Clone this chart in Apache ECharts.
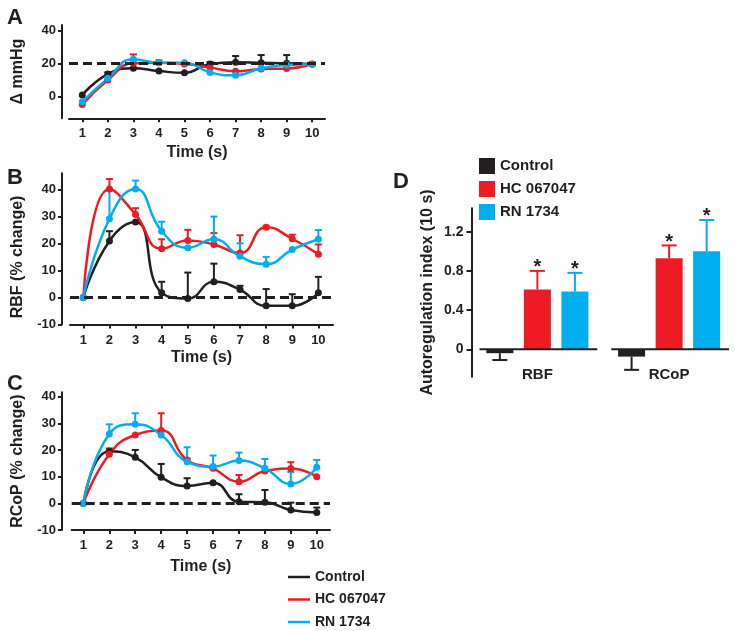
<!DOCTYPE html>
<html><head><meta charset="utf-8">
<script src="https://cdn.jsdelivr.net/npm/echarts@6/dist/echarts.min.js"></script>
<style>html,body{margin:0;padding:0;background:#fff}#c{width:735px;height:631px}</style>
</head><body><div id="c"></div>
<script>
// ---------- data ----------
const times = [1, 2, 3, 4, 5, 6, 7, 8, 9, 10];
const groupNames = ['Control', 'HC 067047', 'RN 1734'];

// Panel A: Δ mmHg (mean, SEM)
const aControl    = [0.8, 13.5, 17, 15.3, 14.3, 19.6, 20.6, 20.3, 20, 19.5];
const aControlErr = [0, 1, 0, 0, 0, 1.2, 3.8, 4.7, 5, 0.5];
const aHC         = [-5, 9.9, 20, 20.3, 19.6, 17.5, 15.2, 16.5, 16.8, 19.6];
const aHCErr      = [0, 0, 5.4, 1.5, 0, 0, 0, 0, 0, 1.2];
const aRN         = [-3.3, 10.9, 22.4, 20.4, 20.4, 14.5, 12.7, 17, 19, 19.5];
const aRNErr      = [0, 0, 0, 0, 0, 0, 0, 0, 0, 0];

// Panel B: RBF (% change)
const bControl    = [0, 20.9, 27.9, 1.7, -0.4, 5.8, 2.9, -3.1, -3.1, 1.7];
const bControlErr = [0, 3.6, 0, 4.1, 9.6, 6.7, 1.4, 6.2, 4.3, 5.9];
const bHC         = [0, 40.1, 30.7, 18, 21.1, 19.6, 16.4, 26, 21.7, 16];
const bHCErr      = [0, 3.7, 2.3, 3.5, 3.9, 4.2, 6.6, 0.5, 1.5, 3.6];
const bRN         = [0, 29.1, 40.1, 24.5, 18.4, 21.5, 15.2, 12.3, 17.7, 21.5];
const bRNErr      = [0, 10.4, 3.1, 3.5, 0, 8.4, 4.8, 2.7, 0, 3.4];

// Panel C: RCoP (% change)
const cControl    = [0, 19.5, 17.25, 9.75, 6.5, 7.75, 0.6, 0.4, -2.5, -3.4];
const cControlErr = [0, 0, 2.75, 5, 2.9, 0, 2.8, 4.6, 2.75, 1.8];
const cHC         = [0, 18.4, 25.6, 27.25, 16.25, 13.1, 8.1, 12.1, 13, 10];
const cHCErr      = [0, 2.2, 0, 6.5, 0.5, 0, 2.5, 0, 2.4, 0];
const cRN         = [0, 26, 29.6, 25.6, 15.6, 13.75, 16, 13.1, 7.25, 13.5];
const cRNErr      = [0, 3.6, 4.15, 0, 5.4, 4.15, 3, 3.5, 4.5, 2.75];

const refLevels = [20, 0, 0];
const lineYTicks = [[0, 20, 40], [-10, 0, 10, 20, 30, 40], [-10, 0, 10, 20, 30, 40]];

// Panel D: Autoregulation index (10 s)
const dCategories = ['RBF', 'RCoP'];
const dControl    = [-0.04, -0.075];
const dControlErr = [0.07, 0.135];
const dHC         = [0.61, 0.93];
const dHCErr      = [0.19, 0.13];
const dRN         = [0.59, 1.0];
const dRNErr      = [0.19, 0.32];
const dStars      = [[0, 0], [1, 1], [1, 1]];
const dYTicks     = [0, 0.4, 0.8, 1.2];

// ---------- style ----------
const ink = '#231F20';
const colors = [ink, '#ED1C24', '#00AEEF'];
const font = '"Liberation Sans", Arial, Helvetica, sans-serif';

const panels = [
  { grid: { left: 69, right: 410, top: 25, bottom: 512.7 }, x: [0.48, 10.5], y: [-13.3, 43.2], yoff: 7,
    name: 'Δ mmHg', namePad: 0, data: [[aControl, aControlErr], [aHC, aHCErr], [aRN, aRNErr]] },
  { grid: { left: 70, right: 402, top: 173.3, bottom: 306.5 }, x: [0.49, 10.56], y: [-10, 45.9], yoff: 8,
    name: 'RBF (% change)', namePad: 16, data: [[bControl, bControlErr], [bHC, bHCErr], [bRN, bRNErr]] },
  { grid: { left: 71.7, right: 405, top: 392.3, bottom: 101 }, x: [0.55, 10.51], y: [-10, 41.6], yoff: 9.7,
    name: 'RCoP (% change)', namePad: 0, data: [[cControl, cControlErr], [cHC, cHCErr], [cRN, cRNErr]] }
];
const nameGaps = [26, 25, 29];

const grids = [], xAxes = [], yAxes = [], series = [];

panels.forEach((p, pi) => {
  grids.push(p.grid);
  xAxes.push({
    type: 'value', gridIndex: pi, min: p.x[0], max: p.x[1],
    axisLine: { onZero: false, lineStyle: { color: ink, width: 2 } },
    axisTick: { customValues: times, length: 4, lineStyle: { color: ink, width: 2 } },
    axisLabel: { customValues: times, margin: 9, color: ink, fontWeight: 'bold', fontSize: 13, fontFamily: font },
    splitLine: { show: false },
    name: 'Time (s)', nameLocation: 'middle', nameGap: nameGaps[pi],
    nameTextStyle: { color: ink, fontWeight: 'bold', fontSize: 16, fontFamily: font }
  });
  yAxes.push({
    type: 'value', gridIndex: pi, min: p.y[0], max: p.y[1], offset: p.yoff,
    axisLine: { show: true, onZero: false, lineStyle: { color: ink, width: 2 } },
    axisTick: { show: true, customValues: lineYTicks[pi], length: 4, lineStyle: { color: ink, width: 2 } },
    axisLabel: { customValues: lineYTicks[pi], margin: 6, color: ink, fontWeight: 'bold', fontSize: 13, fontFamily: font },
    splitLine: { show: false },
    name: p.name, nameLocation: 'middle', nameGap: 36,
    nameTextStyle: { color: ink, fontWeight: 'bold', fontSize: 16, fontFamily: font, padding: [0, p.namePad, 0, 0] }
  });
  p.data.forEach((d, gi) => {
    const col = colors[gi];
    series.push({
      type: 'custom', xAxisIndex: pi, yAxisIndex: pi, silent: true, z: 3,
      data: times.map((t, i) => [t, d[0][i], d[1][i]]),
      renderItem: (params, api) => {
        const e = api.value(2);
        if (!e) return null;
        const p0 = api.coord([api.value(0), api.value(1)]);
        const p1 = api.coord([api.value(0), api.value(1) + e]);
        return { type: 'group', children: [
          { type: 'line', shape: { x1: p0[0], y1: p0[1], x2: p1[0], y2: p1[1] }, style: { stroke: col, lineWidth: 2 } },
          { type: 'line', shape: { x1: p1[0] - 3.5, y1: p1[1], x2: p1[0] + 3.5, y2: p1[1] }, style: { stroke: col, lineWidth: 2 } }
        ] };
      }
    });
    const s = {
      type: 'line', name: groupNames[gi], xAxisIndex: pi, yAxisIndex: pi, z: 4,
      data: times.map((t, i) => [t, d[0][i]]),
      smooth: true, symbol: 'circle', symbolSize: 7, showSymbol: true,
      lineStyle: { color: col, width: 2.5 }, itemStyle: { color: col },
      emphasis: { disabled: true }
    };
    if (gi === 0) {
      s.markLine = {
        silent: true, symbol: 'none', label: { show: false },
        lineStyle: { color: ink, width: 3, type: [9, 5] },
        data: [{ yAxis: refLevels[pi] }]
      };
    }
    series.push(s);
  });
});

// Panel D
grids.push({ left: 471.5, width: 273, top: 208.3, bottom: 254.3 });
xAxes.push({
  type: 'category', gridIndex: 3, data: dCategories,
  axisLine: { show: false }, axisTick: { show: false },
  axisLabel: { margin: -9, color: ink, fontWeight: 'bold', fontSize: 15, fontFamily: font }
});
yAxes.push({
  type: 'value', gridIndex: 3, min: -0.28, max: 1.439,
  axisLine: { show: true, onZero: false, lineStyle: { color: ink, width: 2 } },
  axisTick: { show: true, customValues: dYTicks, length: 5, lineStyle: { color: ink, width: 2 } },
  axisLabel: { customValues: dYTicks, margin: 8, color: ink, fontWeight: 'bold', fontSize: 14, fontFamily: font },
  splitLine: { show: false },
  name: 'Autoregulation index (10 s)', nameLocation: 'middle', nameGap: 36,
  nameTextStyle: { color: ink, fontWeight: 'bold', fontSize: 16, fontFamily: font }
});

const BAR_W = 27, BAR_GAP = 0.39;
const dData = [[dControl, dControlErr], [dHC, dHCErr], [dRN, dRNErr]];
dData.forEach((d, gi) => {
  series.push({
    type: 'bar', name: groupNames[gi], xAxisIndex: 3, yAxisIndex: 3,
    data: d[0], barWidth: BAR_W, barGap: (BAR_GAP * 100) + '%',
    itemStyle: { color: colors[gi] }, emphasis: { disabled: true }, z: 2
  });
});
dData.forEach((d, gi) => {
  const col = colors[gi];
  const off = (gi - 1) * BAR_W * (1 + BAR_GAP);
  series.push({
    type: 'custom', xAxisIndex: 3, yAxisIndex: 3, silent: true, z: 3,
    data: dCategories.map((c, i) => [i, d[0][i], d[1][i], dStars[gi][i]]),
    renderItem: (params, api) => {
      const v = api.value(1), e = api.value(2), star = api.value(3);
      const sign = v < 0 ? -1 : 1;
      const p0 = api.coord([api.value(0), v]);
      const p1 = api.coord([api.value(0), v + sign * e]);
      const x = p0[0] + off;
      const kids = [
        { type: 'line', shape: { x1: x, y1: p0[1], x2: x, y2: p1[1] }, style: { stroke: col, lineWidth: 2 } },
        { type: 'line', shape: { x1: x - 7.5, y1: p1[1], x2: x + 7.5, y2: p1[1] }, style: { stroke: col, lineWidth: 2 } }
      ];
      if (star) kids.push({ type: 'text', style: { text: '*', x: x, y: p1[1] - 3, align: 'center', verticalAlign: 'middle', font: 'bold 20px ' + font, fill: ink } });
      return { type: 'group', children: kids };
    }
  });
});
// broken zero baseline under each category
series.push({
  type: 'custom', xAxisIndex: 3, yAxisIndex: 3, silent: true, z: 4,
  data: dCategories.map((c, i) => [i, 0]),
  renderItem: (params, api) => {
    const c = api.coord([api.value(0), 0]);
    const w = api.size([1, 0])[0];
    return { type: 'line', shape: { x1: c[0] - w / 2 + 8, y1: c[1], x2: c[0] + w / 2 - 6, y2: c[1] }, style: { stroke: ink, lineWidth: 2 } };
  }
});

const chart = echarts.init(document.getElementById('c'), null, { renderer: 'canvas' });
chart.setOption({
  animation: false,
  backgroundColor: '#fff',
  textStyle: { fontFamily: font },
  title: [
    { text: 'A', left: 2, top: 2, textStyle: { fontSize: 22, fontWeight: 'bold', color: ink, fontFamily: font } },
    { text: 'B', left: 2, top: 162, textStyle: { fontSize: 22, fontWeight: 'bold', color: ink, fontFamily: font } },
    { text: 'C', left: 2, top: 368, textStyle: { fontSize: 22, fontWeight: 'bold', color: ink, fontFamily: font } },
    { text: 'D', left: 388, top: 166, textStyle: { fontSize: 22, fontWeight: 'bold', color: ink, fontFamily: font } }
  ],
  legend: [
    { data: groupNames, orient: 'vertical', left: 288, top: 570, icon: 'rect', itemWidth: 22, itemHeight: 2.5,
      itemGap: 8.5, selectedMode: false, padding: 0,
      textStyle: { color: ink, fontWeight: 'bold', fontSize: 14, fontFamily: font } },
    { data: groupNames, orient: 'vertical', left: 479, top: 158, icon: 'rect', itemWidth: 16, itemHeight: 16,
      itemGap: 7, selectedMode: false, padding: 0,
      textStyle: { color: ink, fontWeight: 'bold', fontSize: 15, fontFamily: font } }
  ],
  grid: grids, xAxis: xAxes, yAxis: yAxes, series: series
});
</script></body></html>
